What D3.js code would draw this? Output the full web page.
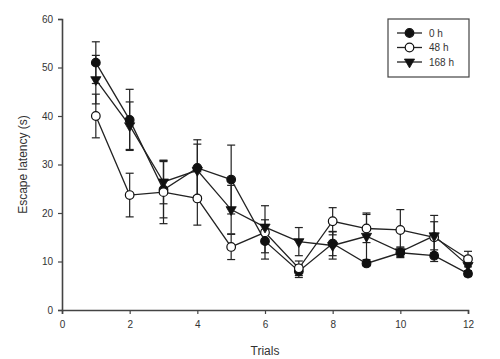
<!DOCTYPE html>
<html>
<head>
<meta charset="utf-8">
<script src="https://cdn.jsdelivr.net/npm/d3@7"></script>
<style>
    body { margin: 0; background: #fff; }
    text { font-family: "Liberation Sans", Arial, sans-serif; fill: #333; }
</style>
</head>
<body>
<div id="chart"></div>
<script>
const trials = [1, 2, 3, 4, 5, 6, 7, 8, 9, 10, 11, 12];
const seriesNames = ["0 h", "48 h", "168 h"];

const mean0h = [51, 39.2, 24.8, 29.3, 26.9, 14.2, 8, 13.7, 9.6, 11.8, 11.2, 7.5];
const err0h = [4.3, 6.3, 5.8, 5.8, 7.1, 2.4, 1.3, 2.5, 0.5, 1, 1.2, 0.6];

const mean48h = [40, 23.7, 24.3, 23, 13, 16, 8.6, 18.3, 16.8, 16.5, 15, 10.5];
const err48h = [4.5, 4.5, 6.5, 5.5, 2.6, 5.5, 1.5, 2.8, 2.9, 4.2, 3.2, 1.6];

const mean168h = [47.5, 38, 26.4, 28.8, 20.7, 17.1, 14.1, 13.3, 15.2, 12, 15.3, 9.2];
const err168h = [5, 4.9, 4.5, 5.4, 5, 1.5, 2.9, 2.8, 4.8, 1, 4.2, 1.2];

const xTicks = [0, 2, 4, 6, 8, 10, 12];
const yTicks = [0, 10, 20, 30, 40, 50, 60];

const width = 500, height = 359;
const margin = { top: 19, right: 32, bottom: 49, left: 62 };

const series = [
    { name: seriesNames[0], mean: mean0h, err: err0h, shape: "circle", fill: "#111" },
    { name: seriesNames[1], mean: mean48h, err: err48h, shape: "circle", fill: "#fff" },
    { name: seriesNames[2], mean: mean168h, err: err168h, shape: "triangle", fill: "#111" }
];

const svg = d3.select("#chart")
    .append("svg")
    .attr("width", width)
    .attr("height", height);

// Scales

const x = d3.scaleLinear()
    .domain([0, 12])
    .range([margin.left, width - margin.right]);

const y = d3.scaleLinear()
    .domain([0, 60])
    .range([height - margin.bottom, margin.top]);

// Axes

const xAxis = svg.append("g")
    .attr("transform", `translate(0,${y(0)})`)
    .call(d3.axisBottom(x).tickValues(xTicks).tickSize(4).tickPadding(7));

const yAxis = svg.append("g")
    .attr("transform", `translate(${x(0)},0)`)
    .call(d3.axisLeft(y).tickValues(yTicks).tickSize(4).tickPadding(5));

[xAxis, yAxis].forEach(g => {
    g.select(".domain").attr("stroke", "#444").attr("stroke-width", 1.6);
    g.selectAll(".tick line").attr("stroke", "#444").attr("stroke-width", 1.2);
    g.selectAll(".tick text").attr("font-size", 10).attr("fill", "#333");
});

svg.append("text")
    .attr("text-anchor", "middle")
    .attr("font-size", 12)
    .attr("x", (x(0) + x(12)) / 2)
    .attr("y", height - 4)
    .text("Trials");

svg.append("text")
    .attr("text-anchor", "middle")
    .attr("font-size", 12)
    .attr("transform", `translate(27,${(y(0) + y(60)) / 2}) rotate(-90)`)
    .text("Escape latency (s)");

// Error bars

const capW = 4;
series.forEach(s => {
    const g = svg.append("g").attr("stroke", "#222").attr("stroke-width", 1.2);
    trials.forEach((t, i) => {
        const hi = s.mean[i] + s.err[i], lo = s.mean[i] - s.err[i];
        g.append("line").attr("x1", x(t)).attr("x2", x(t)).attr("y1", y(hi)).attr("y2", y(lo));
        g.append("line").attr("x1", x(t) - capW).attr("x2", x(t) + capW).attr("y1", y(hi)).attr("y2", y(hi));
        g.append("line").attr("x1", x(t) - capW).attr("x2", x(t) + capW).attr("y1", y(lo)).attr("y2", y(lo));
    });
});

// Lines

const line = d3.line()
    .x((d, i) => x(trials[i]))
    .y(d => y(d));

series.forEach(s => {
    svg.append("path")
        .datum(s.mean)
        .attr("fill", "none")
        .attr("stroke", "#222")
        .attr("stroke-width", 1.3)
        .attr("d", line);
});

// Markers

const triangle = d3.symbol().type(d3.symbolTriangle).size(45);

function drawMarker(g, s, cx, cy) {
    if (s.shape === "circle") {
        g.append("circle")
            .attr("cx", cx).attr("cy", cy).attr("r", 4.3)
            .attr("fill", s.fill).attr("stroke", "#111").attr("stroke-width", 1.2);
    } else {
        g.append("path")
            .attr("d", triangle())
            .attr("transform", `translate(${cx},${cy}) rotate(180)`)
            .attr("fill", s.fill).attr("stroke", "#111").attr("stroke-width", 0.8);
    }
}

series.forEach(s => {
    const g = svg.append("g");
    s.mean.forEach((v, i) => drawMarker(g, s, x(trials[i]), y(v)));
});

// Legend

const legend = svg.append("g").attr("transform", "translate(388,19)");
legend.append("rect")
    .attr("width", 81).attr("height", 58)
    .attr("fill", "#fff").attr("stroke", "#444").attr("stroke-width", 1.2);

series.forEach((s, i) => {
    const ly = 14 + i * 14.5;
    const row = legend.append("g");
    row.append("line")
        .attr("x1", 9).attr("x2", 34).attr("y1", ly).attr("y2", ly)
        .attr("stroke", "#222").attr("stroke-width", 1.3);
    drawMarker(row, s, 21.5, ly);
    row.append("text")
        .attr("x", 41).attr("y", ly + 3.5)
        .attr("font-size", 10)
        .text(s.name);
});
</script>
</body>
</html>
